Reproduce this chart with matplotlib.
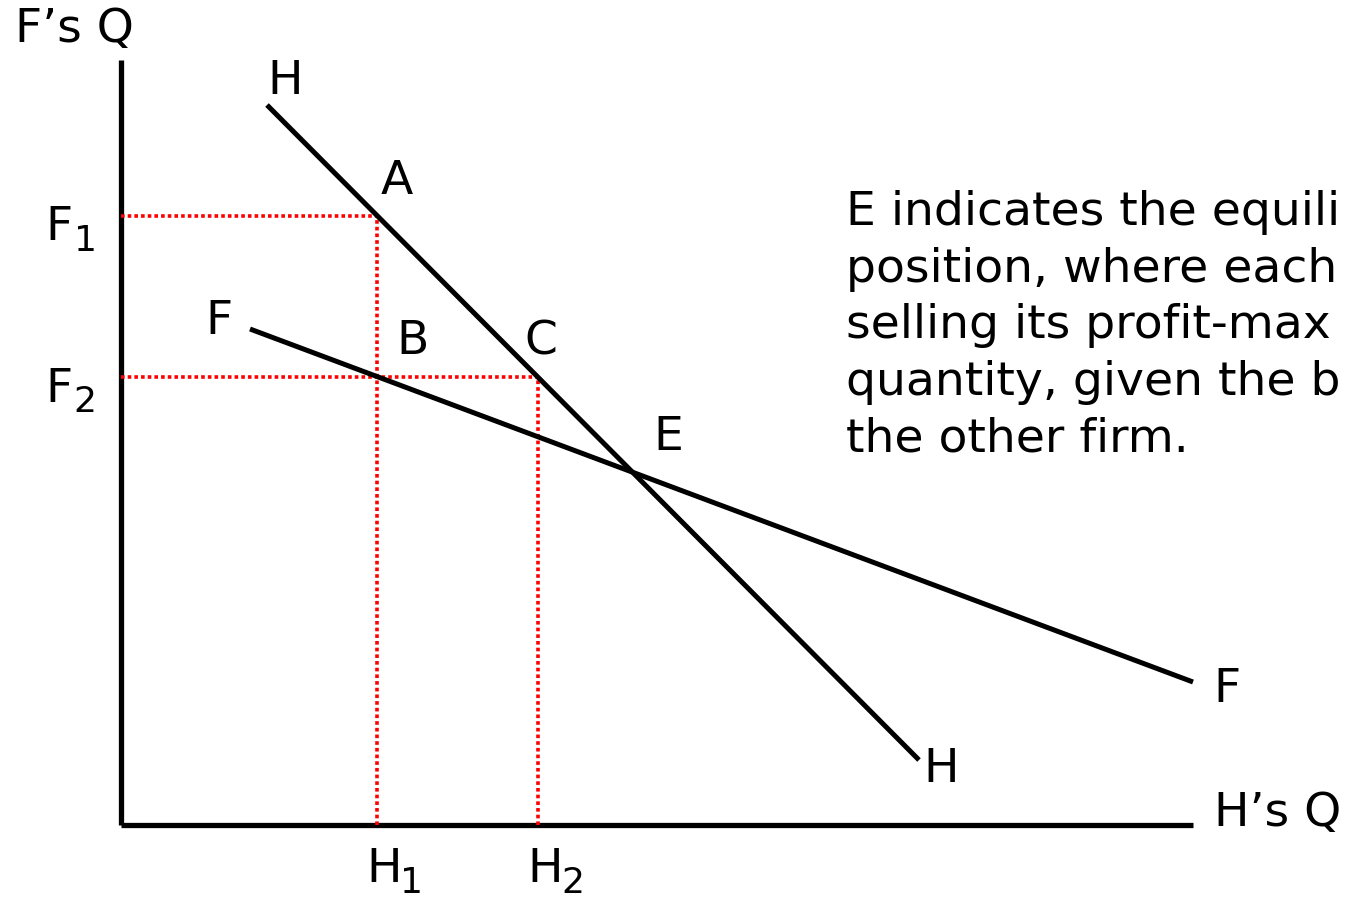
import matplotlib
matplotlib.use("Agg")
from matplotlib import pyplot as plt

# reaction curves (H's quantity on x, F's quantity on y)
hh_x = [146, 798]
hh_y = [720, 65]
ff_x = [129, 1072]
ff_y = [496, 143]

# points
h_levels = [256, 417]      # H1, H2
f_levels = [609, 448]      # F1, F2

x_max = 1072
y_max = 765

# the note runs off the slide in the original; only the visible part is shown
note = ("E indicates the equili\n"
        "position, where each\n"
        "selling its profit-max\n"
        "quantity, given the b\n"
        "the other firm.")

plt.rcParams['font.family'] = ['DejaVu Sans']

fig = plt.figure(figsize=(13.46, 8.98), dpi=100)
ax = fig.add_axes([0, 0, 1, 1])
ax.set_xlim(-121, 1225)
ax.set_ylim(-73, 825)
ax.axis('off')

# axes
ax.plot([0, 0], [0, y_max], color='black', lw=3.8, solid_capstyle='butt')
ax.plot([0, x_max], [0, 0], color='black', lw=3.8, solid_capstyle='butt')

# red guides
red = dict(color='#ff0000', lw=2.6, linestyle=(0, (1, 0.85)))
ax.plot([0, h_levels[0]], [f_levels[0], f_levels[0]], **red)
ax.plot([h_levels[0], h_levels[0]], [0, f_levels[0]], **red)
ax.plot([0, h_levels[1]], [f_levels[1], f_levels[1]], **red)
ax.plot([h_levels[1], h_levels[1]], [0, f_levels[1]], **red)

# reaction curves
ax.plot(hh_x, hh_y, color='black', lw=3.6, solid_capstyle='butt')
ax.plot(ff_x, ff_y, color='black', lw=3.6, solid_capstyle='butt')

fs = 34
lbl = dict(fontsize=fs, ha='center', va='center')
ax.text(-47, 795, "F\u2019s Q", **lbl)
ax.text(1157, 12, "H\u2019s Q", **lbl)
ax.text(164, 743, "H", **lbl)
ax.text(820, 55, "H", **lbl)
ax.text(98, 503, "F", **lbl)
ax.text(1106, 135, "F", **lbl)
ax.text(276, 643, "A", **lbl)
ax.text(292, 483, "B", **lbl)
ax.text(420, 483, "C", **lbl)
ax.text(547, 388, "E", **lbl)

# subscripted tick labels
sub = dict(fontsize=26, ha='center', va='center')
for name, yv in zip(["1", "2"], f_levels):
    ax.text(-62, yv - 12, "F", **lbl)
    ax.text(-36, yv - 25, name, **sub)
for name, xv in zip(["1", "2"], h_levels):
    ax.text(xv + 7, -45, "H", **lbl)
    ax.text(xv + 35, -58, name, **sub)

ax.text(725, 635, note, fontsize=fs, ha='left', va='top', linespacing=1.33)

fig.savefig("out.png", dpi=100)
